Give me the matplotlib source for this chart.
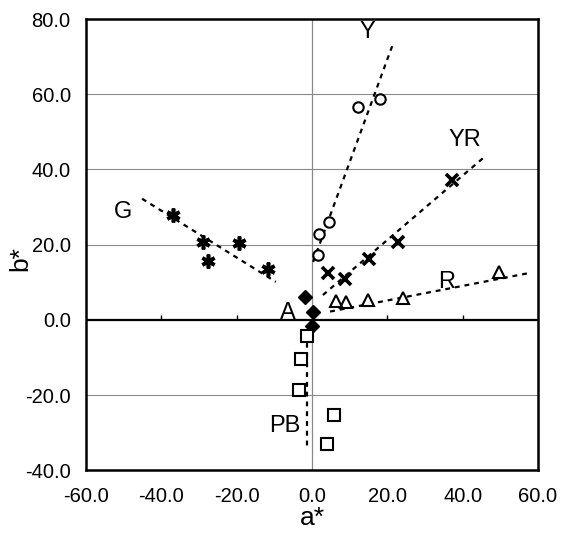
import numpy as np
import matplotlib
matplotlib.use("Agg")
import matplotlib.pyplot as plt

plt.rcParams['font.family'] = ['Liberation Sans', 'DejaVu Sans']

# hue groups, a* / b* values
y_a = [12.1, 18.1, 4.5, 1.9, 1.6]
y_b = [56.6, 58.8, 26.1, 22.9, 17.3]
yr_a = [37.1, 22.8, 15.1, 8.8, 4.2]
yr_b = [37.2, 20.8, 16.2, 10.9, 12.5]
g_a = [-36.9, -28.9, -19.4, -27.6, -11.7]
g_b = [27.9, 20.8, 20.5, 15.7, 13.6]
r_a = [49.6, 24.2, 14.9, 9.0, 6.4]
r_b = [12.8, 5.9, 5.3, 4.8, 5.1]
a_a = [-1.9, 0.2, -0.1]
a_b = [6.2, 2.1, -1.6]
pb_a = [-1.3, -2.9, -3.5, 5.8, 4.0]
pb_b = [-4.3, -10.4, -18.6, -25.3, -33.0]

# trend lines (start / end)
y_line = ([0.3, 21.5], [15.4, 73.4])
yr_line = ([2.9, 45.4], [6.6, 43.0])
g_line = ([-45.1, -9.6], [32.2, 10.1])
r_line = ([4.8, 57.9], [2.2, 12.5])
pb_line = ([-1.2, -1.2], [-3.5, -33.7])

# group labels
labels = ['Y', 'YR', 'G', 'R', 'A', 'PB']
label_x = [14.6, 40.6, -50.2, 35.8, -6.4, -7.2]
label_y = [76.6, 47.9, 28.7, 10.1, 1.9, -28.2]

xticks = [-60, -40, -20, 0, 20, 40, 60]
yticks = [-40, -20, 0, 20, 40, 60, 80]

fig = plt.figure(figsize=(5.73, 5.43), dpi=100)
ax = fig.add_axes([0.150, 0.134, 0.789, 0.831])

ax.set_xlim(-60, 60)
ax.set_ylim(-40, 80)

# grid lines, zero lines
for yv in [-20, 20, 40, 60]:
    ax.axhline(yv, color='#8a8a8a', lw=0.8, zorder=1)
ax.axvline(0, color='#8a8a8a', lw=0.9, zorder=1)
ax.axhline(0, color='black', lw=1.6, zorder=2)
# little ticks sitting on the b*=0 line
ax.vlines([t for t in xticks if t not in (-60, 0, 60)], 0, 1.4, color='black', lw=1.0, zorder=2)

dot = (0, (2.2, 2.2))
for lx, ly in [y_line, yr_line, g_line, r_line, pb_line]:
    ax.plot(lx, ly, color='black', lw=1.6, linestyle=dot, zorder=3)

ax.plot(y_a, y_b, 'o', mfc='white', mec='black', ms=7.5, mew=1.5, zorder=4)
ax.plot(yr_a, yr_b, 'x', color='black', ms=9, mew=2.6, zorder=4)
ax.plot(g_a, g_b, linestyle='none', marker=(6, 2, 0), color='black', ms=10, mew=2.6, zorder=4)
ax.plot(r_a, r_b, '^', mfc='white', mec='black', ms=9, mew=1.5, zorder=4)
ax.plot(a_a, a_b, 'D', color='black', ms=7.5, zorder=4)
ax.plot(pb_a, pb_b, 's', mfc='white', mec='black', ms=8, mew=1.5, zorder=4)

for t, lx, ly in zip(labels, label_x, label_y):
    ax.text(lx, ly, t, fontsize=17, ha='center', va='center', zorder=5)

ax.set_xticks(xticks)
ax.set_yticks(yticks)
ax.set_xticklabels([f"{v:.1f}" for v in xticks])
ax.set_yticklabels([f"{v:.1f}" for v in yticks])
ax.tick_params(length=0, labelsize=14.5)
ax.tick_params(axis='x', pad=12)
ax.tick_params(axis='y', pad=11)
for sp in ax.spines.values():
    sp.set_linewidth(1.8)

ax.set_xlabel('a*', fontsize=19, va='center')
ax.set_ylabel('b*', fontsize=19, va='center')
ax.xaxis.set_label_coords(0.5, -0.106)
ax.yaxis.set_label_coords(-0.146, 0.47)

fig.savefig('out.png', dpi=100)
